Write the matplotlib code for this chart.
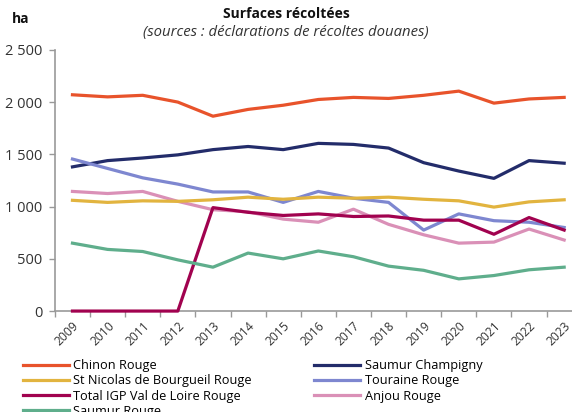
import numpy as np
import matplotlib
matplotlib.use("Agg")
import matplotlib.pyplot as plt

plt.rcParams['font.family'] = ['Open Sans', 'DejaVu Sans']

years = [str(y) for y in range(2009, 2024)]

chinon = [2070, 2050, 2065, 2000, 1865, 1930, 1970, 2025, 2045, 2035, 2065, 2105, 1990, 2030, 2045]
st_nicolas = [1060, 1040, 1055, 1050, 1065, 1090, 1070, 1090, 1080, 1090, 1070, 1055, 995, 1045, 1065]
igp = [0, 0, 0, 0, 990, 945, 915, 930, 905, 910, 870, 870, 735, 895, 775]
saumur_rouge = [650, 590, 570, 490, 420, 555, 500, 575, 520, 430, 390, 308, 340, 395, 420]
champigny = [1380, 1440, 1465, 1495, 1545, 1575, 1545, 1605, 1595, 1560, 1420, 1340, 1270, 1440, 1415]
touraine = [1455, 1365, 1275, 1215, 1140, 1140, 1040, 1145, 1080, 1040, 775, 930, 865, 850, 800]
anjou = [1145, 1125, 1145, 1050, 970, 950, 880, 850, 975, 830, 730, 650, 660, 785, 680]

series = [
    ("Chinon Rouge", chinon, "#E8532B"),
    ("St Nicolas de Bourgueil Rouge", st_nicolas, "#E2B43F"),
    ("Total IGP Val de Loire Rouge", igp, "#A1024F"),
    ("Saumur Rouge", saumur_rouge, "#5FAE8C"),
    ("Saumur Champigny", champigny, "#232C6A"),
    ("Touraine Rouge", touraine, "#7E87D0"),
    ("Anjou Rouge", anjou, "#DA90B7"),
]
# drawing order (back to front)
draw_order = [4, 6, 5, 1, 2, 3, 0]

fig = plt.figure(figsize=(5.72, 4.12), dpi=100)
ax = fig.add_axes([0.096, 0.245, 0.921, 0.634])

x = np.arange(len(years))
lines = {}
for k, i in enumerate(draw_order):
    name, vals, col = series[i]
    lines[i], = ax.plot(x, vals, color=col, lw=2.3, label=name, clip_on=False, zorder=3 + k * 0.1)

ax.set_xlim(-0.5, len(years) - 0.5)
ax.set_ylim(0, 2500)
ax.set_yticks([0, 500, 1000, 1500, 2000, 2500])
ax.set_yticklabels(["0", "500", "1 000", "1 500", "2 000", "2 500"], fontsize=10.5, color="#333333")
ax.set_xticks(x)
ax.set_xticklabels(years, rotation=45, ha='right', rotation_mode='anchor', fontsize=8.7, color="#333333")
ax.set_xticks(np.arange(-0.5, len(years)), minor=True)
ax.tick_params(axis='x', which='major', length=0, pad=6)
ax.tick_params(axis='x', which='minor', length=4, color="#999999", width=1)
ax.tick_params(axis='y', length=4, color="#999999", width=1, pad=5)

for s in ['top', 'right']:
    ax.spines[s].set_visible(False)
for s in ['left', 'bottom']:
    ax.spines[s].set_color("#999999")
    ax.spines[s].set_linewidth(1.2)

fig.text(0.5, 0.966, "Surfaces récoltées", ha='center', va='center', fontsize=10, fontweight='bold', color="#111111")
fig.text(0.5, 0.922, "(sources : déclarations de récoltes douanes)", ha='center', va='center', fontsize=10.7, style='italic', color="#333333")
fig.text(0.02, 0.955, "ha", ha='left', va='center', fontsize=10, fontweight='bold', color="#111111")

handles = [lines[i] for i in range(len(series))]
fig.legend(handles, [s[0] for s in series], ncol=2, loc='upper left', bbox_to_anchor=(0.04, 0.128),
           frameon=False, fontsize=9.2, handlelength=3.6, handletextpad=0.35, columnspacing=4.9,
           labelspacing=0.17, borderaxespad=0, borderpad=0)

fig.savefig("out.png", dpi=100)
